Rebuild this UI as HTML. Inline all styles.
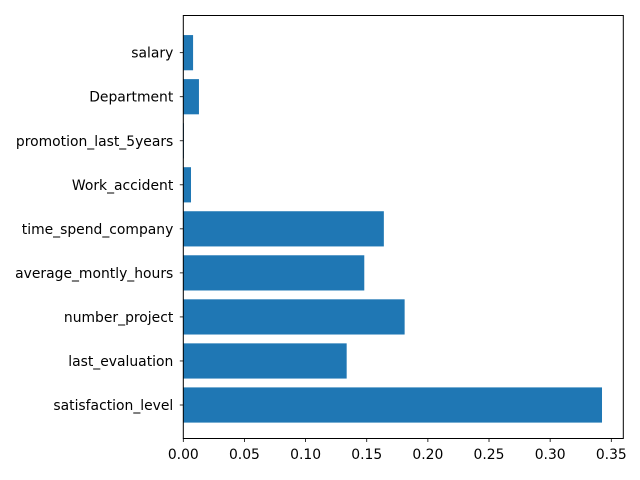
<!DOCTYPE html>
<html><head><meta charset="utf-8"><style>
body{margin:0;background:#fff;}
svg{display:block;font-family:"DejaVu Sans","Liberation Sans",sans-serif;}
</style></head><body>
<svg id="chart" width="640" height="480" xmlns="http://www.w3.org/2000/svg">
<g id="bars"></g>
<g id="yaxis"></g>
<g id="xaxis"></g>
<rect x="183.3" y="15.5" width="440" height="423" fill="none" stroke="#000" stroke-width="1"/>
</svg>
<script>
const categories = ["satisfaction_level","last_evaluation","number_project","average_montly_hours","time_spend_company","Work_accident","promotion_last_5years","Department","salary"];
const importances = [0.3424, 0.1336, 0.181, 0.148, 0.164, 0.0063, 0.0005, 0.0128, 0.0080];
const xTicks = [0,0.05,0.10,0.15,0.20,0.25,0.30,0.35];
const xTickLabels = ["0.00","0.05","0.10","0.15","0.20","0.25","0.30","0.35"];

const NS="http://www.w3.org/2000/svg";
const x0=183.3, pxPerUnit=(611.3-183.3)/0.35;
function xs(v){return x0+v*pxPerUnit;}
function ys(i){return 405-i*44.04;}
const bandH=35.2;
const bars=document.getElementById('bars'), ya=document.getElementById('yaxis'), xa=document.getElementById('xaxis');
function mk(tag,attrs,parent){const e=document.createElementNS(NS,tag);for(const k in attrs)e.setAttribute(k,attrs[k]);parent.appendChild(e);return e;}
categories.forEach((c,i)=>{
  const r=mk('rect',{x:x0,y:ys(i)-bandH/2,width:Math.max(0,xs(importances[i])-x0),height:bandH,fill:'#1f77b4'},bars);
  
  
  const t=mk('line',{x1:x0-3.5,x2:x0,y1:ys(i),y2:ys(i),stroke:'#000','stroke-width':0.8},ya);
  
  
  const l=mk('text',{x:x0-10,y:ys(i)+5,'text-anchor':'end','font-size':'13.9px',fill:'#000'},ya);
  l.textContent=c;
  
  
});
xTicks.forEach((v,i)=>{
  const t=mk('line',{x1:xs(v),x2:xs(v),y1:438.5,y2:442,stroke:'#000','stroke-width':0.8},xa);
  
  
  const l=mk('text',{x:xs(v),y:459,'text-anchor':'middle','font-size':'13.9px',fill:'#000'},xa);
  l.textContent=xTickLabels[i];
  
  
});
</script>
</body></html>
